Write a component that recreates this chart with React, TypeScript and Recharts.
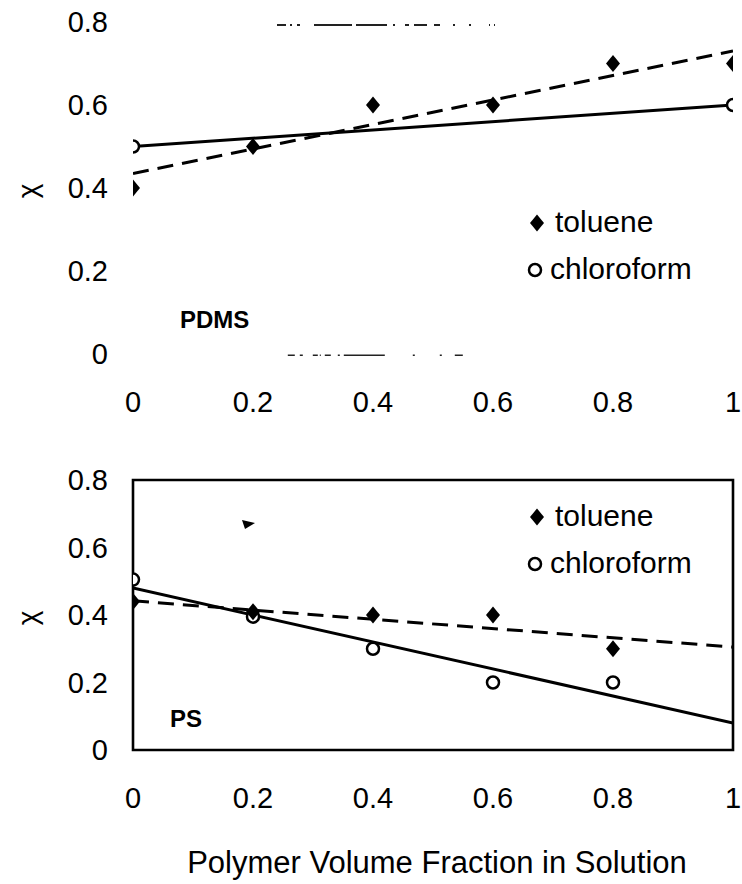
import React from 'react';
import { ComposedChart, Line, Scatter, XAxis, YAxis, ReferenceArea, ReferenceLine } from 'recharts';

// ---------- axes ----------
const xTicks = [0, 0.2, 0.4, 0.6, 0.8, 1];
const yTicks = [0, 0.2, 0.4, 0.6, 0.8];
const xAxisTitle = 'Polymer Volume Fraction in Solution';
const yAxisTitle = 'χ';
const seriesNames = ['toluene', 'chloroform'];
const panelNames = ['PDMS', 'PS'];

// ---------- PDMS panel ----------
const pdmsTolueneX = [0, 0.2, 0.4, 0.6, 0.8, 1];
const pdmsTolueneY = [0.4, 0.5, 0.6, 0.6, 0.7, 0.7];
const pdmsChloroformX = [0, 1];
const pdmsChloroformY = [0.5, 0.6];
const pdmsFitX = [0, 1];
const pdmsTolueneFitY = [0.435, 0.73];
const pdmsChloroformFitY = [0.5, 0.6];

// ---------- PS panel ----------
const psTolueneX = [0, 0.2, 0.4, 0.6, 0.8];
const psTolueneY = [0.44, 0.41, 0.4, 0.4, 0.3];
const psChloroformX = [0, 0.2, 0.4, 0.6, 0.8];
const psChloroformY = [0.505, 0.395, 0.3, 0.2, 0.2];
const psFitX = [0, 1];
const psTolueneFitY = [0.442, 0.305];
const psChloroformFitY = [0.48, 0.08];

// ---------- scan remnants ----------
const pdmsTopRemnantX = [0.24, 0.607];
const pdmsTopRemnantY = 0.793;
const pdmsBottomRemnantX = [0.258, 0.55];
const pdmsBottomRemnantY = -0.003;
const psSpeckX = [0.19];
const psSpeckY = [0.67];

const zip = (xs: number[], ys: number[]) => xs.map((x, i) => ({ x, y: ys[i] }));

const FONT = '"Liberation Sans", Arial, Helvetica, sans-serif';

const Diamond = (props: any) => {
  const { cx, cy } = props;
  if (cx == null || cy == null) return <g />;
  return <path d={`M${cx},${cy - 8.5} L${cx + 7},${cy} L${cx},${cy + 8.5} L${cx - 7},${cy} Z`} fill="#000" />;
};

const Ring = (props: any) => {
  const { cx, cy } = props;
  if (cx == null || cy == null) return <g />;
  return <circle cx={cx} cy={cy} r={6} fill="#fff" stroke="#000" strokeWidth={2.5} />;
};

const Speck = (props: any) => {
  const { cx, cy } = props;
  if (cx == null || cy == null) return <g />;
  return <path d={`M${cx - 5},${cy - 4} L${cx + 8},${cy - 1} L${cx - 2},${cy + 5} Z`} fill="#000" />;
};

const ChiLabel = (props: any) => {
  const vb = props.viewBox || { x: 0, y: 0, width: 0, height: 0 };
  const cx = 27;
  const cy = vb.y + vb.height / 2 + 3;
  return (
    <text x={cx} y={cy} transform={`rotate(-90, ${cx}, ${cy})`} textAnchor="middle" dominantBaseline="central"
      fontSize={28} fontFamily={FONT} fill="#000">{yAxisTitle}</text>
  );
};

const TitleLabel = (props: any) => {
  const vb = props.viewBox || { x: 0, y: 0, width: 0, height: 0 };
  return (
    <text x={vb.x + vb.width / 2 + 4} y={vb.y + 123} textAnchor="middle" fontSize={31} fontFamily={FONT} fill="#000">
      {xAxisTitle}
    </text>
  );
};

const tickStyle = { fill: '#000', fontSize: 29, fontFamily: FONT };

const CHART_W = 742;

function TopPanel() {
  return (
    <ComposedChart width={CHART_W} height={420} margin={{ top: 22, right: 9, bottom: 0, left: 0 }} style={{ fontFamily: FONT }}>
      <XAxis type="number" dataKey="x" domain={[0, 1]} ticks={xTicks} interval={0} height={66}
        axisLine={false} tickLine={false} tickSize={0} tickMargin={37} tick={tickStyle} allowDataOverflow />
      <YAxis type="number" domain={[0, 0.8]} ticks={yTicks} interval={0} width={133}
        axisLine={false} tickLine={false} tickSize={0} tickMargin={25} tick={tickStyle} allowDataOverflow
        label={<ChiLabel />} />
      <ReferenceLine ifOverflow="visible"
        segment={[{ x: pdmsTopRemnantX[0], y: pdmsTopRemnantY }, { x: pdmsTopRemnantX[1], y: pdmsTopRemnantY }]}
        stroke="#222" strokeWidth={2} strokeDasharray="9 4 2 5 3 14 38 4 31 6 2 10 4 5 13 7 6 13 2 14 2 18 1 4 1 20" />
      <ReferenceLine ifOverflow="visible"
        segment={[{ x: pdmsBottomRemnantX[0], y: pdmsBottomRemnantY }, { x: pdmsBottomRemnantX[1], y: pdmsBottomRemnantY }]}
        stroke="#222" strokeWidth={1.6} strokeDasharray="7 5 3 10 5 2 1 4 6 7 2 4 41 28 2 25 2 13 8 50" />
      <Line data={zip(pdmsFitX, pdmsTolueneFitY)} dataKey="y" stroke="#000" strokeWidth={3} strokeDasharray="16 9"
        dot={false} activeDot={false} isAnimationActive={false} legendType="none" />
      <Line data={zip(pdmsFitX, pdmsChloroformFitY)} dataKey="y" stroke="#000" strokeWidth={3}
        dot={false} activeDot={false} isAnimationActive={false} legendType="none" />
      <Scatter name={seriesNames[1]} data={zip(pdmsChloroformX, pdmsChloroformY)} dataKey="y" shape={Ring} isAnimationActive={false} />
      <Scatter name={seriesNames[0]} data={zip(pdmsTolueneX, pdmsTolueneY)} dataKey="y" shape={Diamond} isAnimationActive={false} />
    </ComposedChart>
  );
}

function BottomPanel() {
  return (
    <ComposedChart width={CHART_W} height={444} margin={{ top: 40, right: 9, bottom: 0, left: 0 }} style={{ fontFamily: FONT }}>
      <XAxis type="number" dataKey="x" domain={[0, 1]} ticks={xTicks} interval={0} height={134}
        axisLine={false} tickLine={false} tickSize={0} tickMargin={37} tick={tickStyle} allowDataOverflow
        label={<TitleLabel />} />
      <YAxis type="number" domain={[0, 0.8]} ticks={yTicks} interval={0} width={133}
        axisLine={false} tickLine={false} tickSize={0} tickMargin={25} tick={tickStyle} allowDataOverflow
        label={<ChiLabel />} />
      <ReferenceArea x1={0} x2={1} y1={0} y2={0.8} fill="none" stroke="#000" strokeWidth={2.6} ifOverflow="visible" />
      <Line data={zip(psFitX, psTolueneFitY)} dataKey="y" stroke="#000" strokeWidth={3} strokeDasharray="16 9"
        dot={false} activeDot={false} isAnimationActive={false} legendType="none" />
      <Line data={zip(psFitX, psChloroformFitY)} dataKey="y" stroke="#000" strokeWidth={3}
        dot={false} activeDot={false} isAnimationActive={false} legendType="none" />
      <Scatter name={seriesNames[1]} data={zip(psChloroformX, psChloroformY)} dataKey="y" shape={Ring} isAnimationActive={false} />
      <Scatter name={seriesNames[0]} data={zip(psTolueneX, psTolueneY)} dataKey="y" shape={Diamond} isAnimationActive={false} />
      <Scatter data={zip(psSpeckX, psSpeckY)} dataKey="y" shape={Speck} isAnimationActive={false} legendType="none" />
    </ComposedChart>
  );
}

function LegendAndLabels() {
  const legendRows = [
    { y: 223, dy: 9 },
    { y: 270, dy: 9 },
    { y: 517, dy: 9 },
    { y: 564, dy: 9 },
  ];
  return (
    <svg width={CHART_W} height={884} style={{ position: 'absolute', left: 0, top: 0, pointerEvents: 'none' }}>
      {legendRows.map((r, i) => {
        const isTol = i % 2 === 0;
        return (
          <g key={i}>
            {isTol ? <Diamond cx={537} cy={r.y} /> : <Ring cx={535} cy={r.y} />}
            <text x={isTol ? 555 : 550} y={r.y + r.dy} fontSize={30} fontFamily={FONT} fill="#000">
              {isTol ? seriesNames[0] : seriesNames[1]}
            </text>
          </g>
        );
      })}
      <text x={180} y={328} fontSize={24} fontWeight="bold" fontFamily={FONT} fill="#000">{panelNames[0]}</text>
      <text x={170} y={727} fontSize={24} fontWeight="bold" fontFamily={FONT} fill="#000">{panelNames[1]}</text>
    </svg>
  );
}

export default function App() {
  return (
    <div style={{ position: 'absolute', left: 0, top: 0, width: CHART_W, height: 884, background: '#fff', overflow: 'hidden' }}>
      <div style={{ position: 'absolute', left: 0, top: 0 }}>
        <TopPanel />
      </div>
      <div style={{ position: 'absolute', left: 0, top: 440 }}>
        <BottomPanel />
      </div>
      <LegendAndLabels />
    </div>
  );
}
